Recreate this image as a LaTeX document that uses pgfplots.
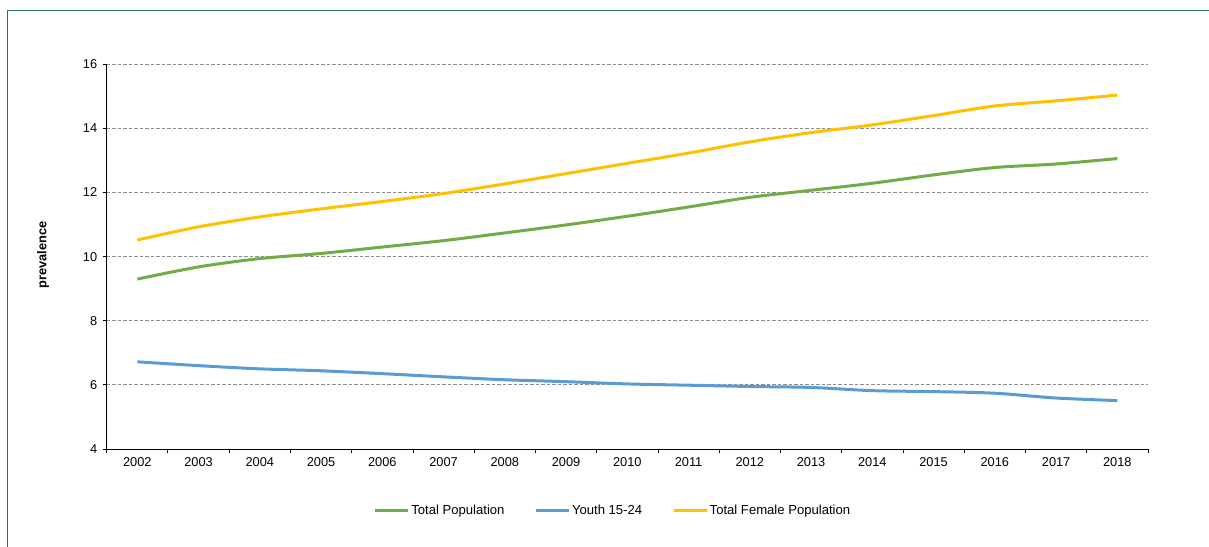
\documentclass[border=0pt]{standalone}
\usepackage{fontspec}
\setmainfont{Liberation Sans}
\usepackage{pgfplots}
\pgfplotsset{compat=1.18}

\definecolor{totgreen}{RGB}{112,173,71}
\definecolor{youthblue}{RGB}{91,155,213}
\definecolor{femgold}{RGB}{255,192,0}
\definecolor{framegreen}{RGB}{40,115,80}
\definecolor{gridgray}{RGB}{140,140,140}

\newcommand{\lbl}{\fontsize{12.8}{14}\selectfont}
\newcommand{\leg}{\fontsize{13.1}{15}\selectfont}

\begin{document}
\begin{tikzpicture}[x=1pt,y=1pt]
\useasboundingbox (0,0) rectangle (1209,546);
% outer chart frame
\draw[framegreen, line width=1.6pt] (7.5,-5) -- (7.5,535.3) -- (1215,535.3);

\begin{axis}[
  at={(106.7pt,97pt)}, anchor=south west,
  scale only axis, width=1041.3pt, height=384.7pt,
  xmin=2001.5, xmax=2018.5, ymin=4, ymax=16,
  axis x line*=bottom, axis y line*=left,
  axis line style={black, line width=1pt},
  tick align=outside,
  major tick length=4pt,
  tick style={black, line width=0.9pt},
  xtick={2001.5,2002.5,...,2018.5},
  xticklabels={},
  extra x ticks={2002,2003,...,2018},
  extra x tick style={major tick length=0pt},
  extra x tick labels={2002,2003,2004,2005,2006,2007,2008,2009,2010,2011,2012,2013,2014,2015,2016,2017,2018},
  ytick={4,6,...,16},
  ymajorgrids,
  grid style={gridgray, line width=0.9pt, dash pattern=on 3.5pt off 2pt},
  /pgf/number format/assume math mode=true,
  /pgf/number format/1000 sep={},
  tick label style={font=\lbl, black},
  xticklabel style={yshift=-5.5pt},
  yticklabel style={xshift=-2pt},
  every axis y label/.style={at={(axis description cs:-0.0612,0.504)}, rotate=90, anchor=center},
  ylabel={\lbl\bfseries prevalence},
  legend columns=3,
  legend style={at={(axis description cs:0.486,-0.1586)}, anchor=center,
    draw=none, fill=none, font=\leg,
    nodes={inner xsep=1.5pt},
    /tikz/every even column/.append style={column sep=28.5pt}},
  legend image code/.code={\draw[#1, line width=3pt] (0pt,0pt) -- (33pt,0pt);},
  every axis plot/.append style={line width=3pt, smooth, no markers},
]

\addplot[totgreen] coordinates {
  (2002,9.30) (2003,9.68) (2004,9.94) (2005,10.10) (2006,10.30)
  (2007,10.50) (2008,10.74) (2009,10.99) (2010,11.26) (2011,11.55)
  (2012,11.85) (2013,12.07) (2014,12.29) (2015,12.55) (2016,12.78)
  (2017,12.89) (2018,13.06)};
\addlegendentry{Total Population}

\addplot[youthblue] coordinates {
  (2002,6.72) (2003,6.60) (2004,6.50) (2005,6.44) (2006,6.35)
  (2007,6.25) (2008,6.16) (2009,6.10) (2010,6.03) (2011,5.99)
  (2012,5.95) (2013,5.92) (2014,5.82) (2015,5.79) (2016,5.74)
  (2017,5.59) (2018,5.51)};
\addlegendentry{Youth 15-24}

\addplot[femgold] coordinates {
  (2002,10.52) (2003,10.93) (2004,11.24) (2005,11.49) (2006,11.72)
  (2007,11.97) (2008,12.27) (2009,12.59) (2010,12.91) (2011,13.23)
  (2012,13.58) (2013,13.87) (2014,14.11) (2015,14.40) (2016,14.70)
  (2017,14.86) (2018,15.04)};
\addlegendentry{Total Female Population}

\end{axis}
\end{tikzpicture}
\end{document}
